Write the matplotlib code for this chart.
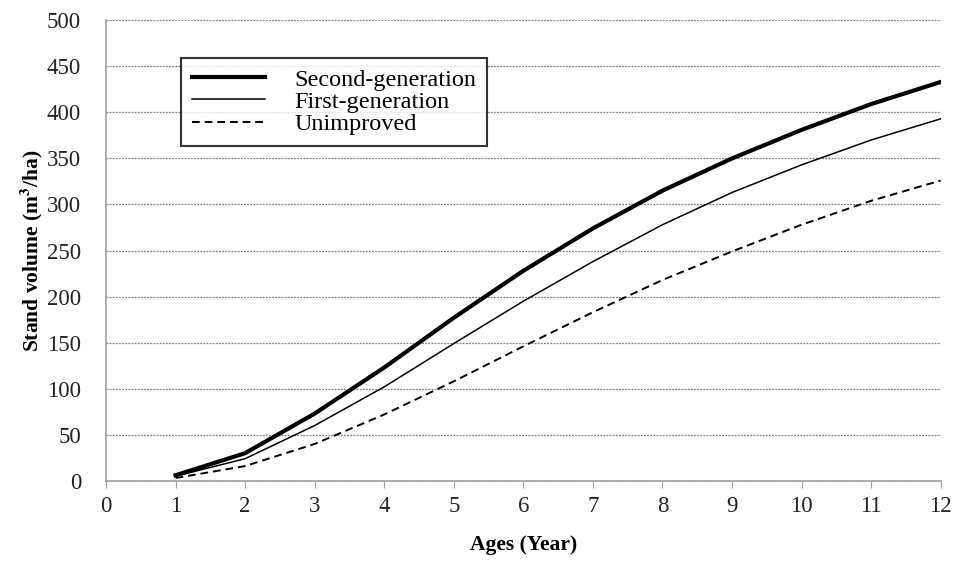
import matplotlib.pyplot as plt
import numpy as np

ages = [1, 2, 3, 4, 5, 6, 7, 8, 9, 10, 11, 12]
second_gen = [6, 30, 73, 123, 177, 228, 274, 315, 350, 381, 409, 433]
first_gen = [5, 24, 60, 102, 149, 195, 238, 278, 313, 343, 370, 393]
unimproved = [3, 16, 40, 72, 108, 146, 183, 218, 249, 278, 304, 326]

plt.rcParams['font.family'] = ['Liberation Serif', 'DejaVu Serif']
plt.rcParams['mathtext.fontset'] = 'stix'

fig = plt.figure(figsize=(9.55, 5.63), dpi=100)
ax = fig.add_axes([0.111, 0.146, 0.874, 0.818])

ax.plot(ages, second_gen, color='black', lw=3.0, label='Second-generation')
ax.plot(ages, first_gen, color='black', lw=1.1, label='First-generation')
ax.plot(ages, unimproved, color='black', lw=1.4, ls=(0, (4, 2.5)), label='Unimproved')

ax.set_xlim(0, 12)
ax.set_ylim(0, 500)
ax.set_xticks(np.arange(0, 13, 1))
ax.set_yticks(np.arange(0, 501, 50))
ax.yaxis.grid(True, color='#808080', ls=(0, (1.5, 1)), lw=0.9)
ax.set_axisbelow(True)

for s in ['top', 'right']:
    ax.spines[s].set_visible(False)
for s in ['left', 'bottom']:
    ax.spines[s].set_color('#a0a0a0')
    ax.spines[s].set_linewidth(1.2)
ax.tick_params(axis='x', colors='#a0a0a0', labelcolor='#222222', labelsize=16.5, length=5, pad=6)
ax.tick_params(axis='y', length=0, labelcolor='#222222', labelsize=16.5, pad=18)

ax.set_xlabel('Ages (Year)', fontsize=15.5, fontweight='bold', labelpad=13)
ax.set_ylabel('Stand volume (m$^{\\mathbf{3}}$/ha)', fontsize=15.5, fontweight='bold', labelpad=1)

leg = ax.legend(loc='upper left', bbox_to_anchor=(0.09, 0.918), fontsize=17.5,
                frameon=True, fancybox=False, edgecolor='black', handlelength=3.0,
                handletextpad=1.2, borderpad=0.45, labelspacing=0.0, borderaxespad=0)
leg.get_frame().set_linewidth(1.5)

plt.savefig('out.png', dpi=100)
